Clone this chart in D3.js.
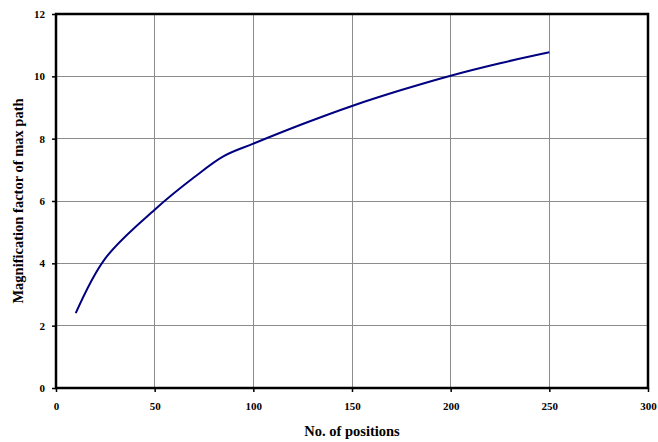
<!DOCTYPE html>
<html>
<head>
<meta charset="utf-8">
<script src="https://cdn.jsdelivr.net/npm/d3@7"></script>
<style>
  html, body { margin: 0; padding: 0; background: #fff; }
  svg { display: block; }
  text { font-family: "Liberation Serif", "Times New Roman", serif; font-weight: bold; fill: #000; }
</style>
</head>
<body>
<svg id="chart" width="658" height="442"></svg>
<script>
// Number of positions vs. magnification factor of the max path
const positions = [10, 25, 50, 70, 85, 100, 125, 150, 175, 200, 225, 250];
const magnification = [2.4, 4.16, 5.72, 6.76, 7.44, 7.84, 8.47, 9.05, 9.56, 10.02, 10.42, 10.77];
const xTicks = [0, 50, 100, 150, 200, 250, 300];
const yTicks = [0, 2, 4, 6, 8, 10, 12];
const xTitle = "No. of positions";
const yTitle = "Magnification factor of max path";

const svg = d3.select("#chart");
const margin = { left: 56, top: 14, right: 10, bottom: 54 };
const W = 658, H = 442;

const x = d3.scaleLinear().domain([0, 300]).range([margin.left, W - margin.right]);
const y = d3.scaleLinear().domain([0, 12]).range([H - margin.bottom, margin.top]);

// grid lines
const grid = svg.append("g");
grid.selectAll("line.v").data(xTicks.slice(1, -1)).join("line")
  .attr("x1", d => x(d)).attr("x2", d => x(d))
  .attr("y1", y(0)).attr("y2", y(12))
  .attr("stroke", "#8c8c8c").attr("stroke-width", 1)
  .attr("shape-rendering", "crispEdges");
grid.selectAll("line.h").data(yTicks.slice(1, -1)).join("line")
  .attr("x1", x(0)).attr("x2", x(300))
  .attr("y1", d => y(d)).attr("y2", d => y(d))
  .attr("stroke", "#8c8c8c").attr("stroke-width", 1)
  .attr("shape-rendering", "crispEdges");

// axes
const xAxis = svg.append("g")
  .attr("transform", `translate(0,${y(0)})`)
  .call(d3.axisBottom(x).tickValues(xTicks).tickSize(4).tickPadding(10).tickFormat(d3.format("d")));
const yAxis = svg.append("g")
  .attr("transform", `translate(${x(0)},0)`)
  .call(d3.axisLeft(y).tickValues(yTicks).tickSize(4).tickPadding(7).tickFormat(d3.format("d")));
[xAxis, yAxis].forEach(a => {
  a.attr("font-family", null).attr("font-size", null);
  a.select(".domain").remove();
  a.selectAll(".tick line").attr("stroke", "#000").attr("stroke-width", 1.5);
  a.selectAll(".tick text")
    .attr("font-family", "Liberation Serif, Times New Roman, serif")
    .attr("font-weight", "bold").attr("font-size", 11).attr("fill", "#000");
});

// plot frame
svg.append("rect")
  .attr("x", x(0)).attr("y", y(12))
  .attr("width", x(300) - x(0)).attr("height", y(0) - y(12))
  .attr("fill", "none").attr("stroke", "#000").attr("stroke-width", 2.5);

// smoothed data curve
const line = d3.line()
  .x((d, i) => x(positions[i]))
  .y(d => y(d))
  .curve(d3.curveCatmullRom.alpha(0.5));
svg.append("path")
  .datum(magnification)
  .attr("d", line)
  .attr("fill", "none")
  .attr("stroke", "#000080")
  .attr("stroke-width", 2);

// axis titles
svg.append("text")
  .attr("x", (x(0) + x(300)) / 2).attr("y", 436)
  .attr("text-anchor", "middle").attr("font-size", 14.5)
  .text(xTitle);
svg.append("text")
  .attr("transform", `translate(23,${(y(0) + y(12)) / 2}) rotate(-90)`)
  .attr("text-anchor", "middle").attr("font-size", 14.5)
  .text(yTitle);
</script>
</body>
</html>
